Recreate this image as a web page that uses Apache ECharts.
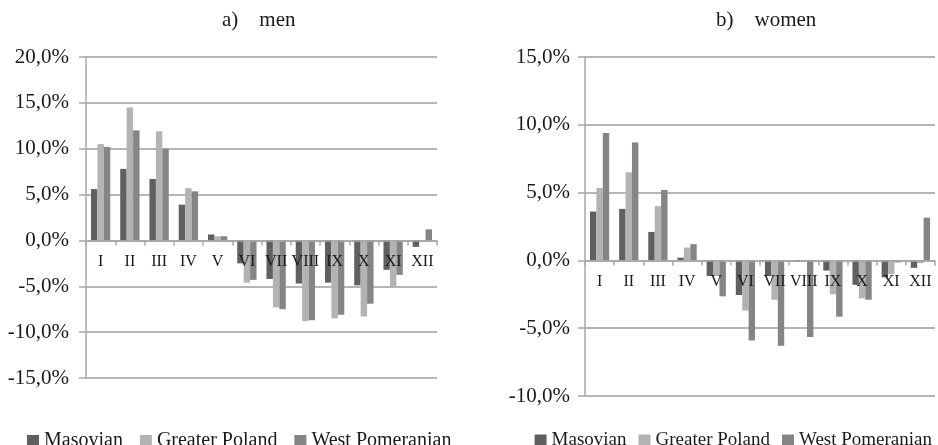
<!DOCTYPE html>
<html>
<head>
<meta charset="utf-8">
<script src="https://cdn.jsdelivr.net/npm/echarts@6/dist/echarts.min.js"></script>
<style>
  html, body { margin: 0; padding: 0; background: #fff; }
  #chart { width: 938px; height: 445px; }
</style>
</head>
<body>
<div id="chart"></div>
<script>
// Month labels shared by both panels
const months = ['I', 'II', 'III', 'IV', 'V', 'VI', 'VII', 'VIII', 'IX', 'X', 'XI', 'XII'];
const regions = ['Masovian', 'Greater Poland', 'West Pomeranian'];

// a) men — monthly deviation, %
const menMasovian       = [5.6, 7.8, 6.7, 3.9, 0.65, -2.5, -4.2, -4.7, -4.6, -4.9, -3.2, -0.7];
const menGreaterPoland  = [10.5, 14.5, 11.9, 5.7, 0.45, -4.6, -7.3, -8.8, -8.5, -8.3, -5.0, -0.1];
const menWestPomeranian = [10.2, 12.0, 10.0, 5.35, 0.45, -4.3, -7.5, -8.7, -8.1, -6.9, -3.75, 1.2];

// b) women — monthly deviation, %
const womenMasovian       = [3.6, 3.8, 2.1, 0.2, -1.15, -2.55, -1.15, -0.1, -0.75, -1.8, -1.25, -0.55];
const womenGreaterPoland  = [5.35, 6.5, 4.0, 0.95, -1.15, -3.7, -2.9, -0.1, -2.5, -2.8, -1.0, -0.2];
const womenWestPomeranian = [9.4, 8.7, 5.2, 1.2, -2.65, -5.9, -6.3, -5.65, -4.15, -2.9, -0.15, 3.15];

const colors = ['#606060', '#b3b3b3', '#858585'];
const serif = 'Liberation Serif';
const ink = '#1a1a1a';
const axisGray = '#a8a8a8';
const gridGray = '#b5b5b5';

const grids = [
  { left: 86, right: 501, top: 57, bottom: 67 },
  { left: 585, right: 3, top: 57, bottom: 49 }
];

function pct(v) {
  return v.toFixed(1).replace('.', ',') + '%';
}

function yAxis(gridIndex, min, max, labelMargin) {
  return {
    type: 'value', gridIndex, min, max, interval: 5,
    axisLine: { show: true, lineStyle: { color: axisGray, width: 1.5 } },
    axisTick: { show: true, length: 7, lineStyle: { color: axisGray, width: 1.5 } },
    axisLabel: { formatter: pct, fontFamily: serif, fontSize: 21, color: ink, margin: labelMargin },
    splitLine: { lineStyle: { color: gridGray, width: 2 } }
  };
}

// Category axis is drawn above the bars so the month labels stay readable
function xAxis(gridIndex) {
  return {
    type: 'category', gridIndex, data: months, position: 'bottom', offset: 0, z: 10,
    axisLine: { onZero: false, lineStyle: { color: axisGray, width: 1.5 } },
    axisTick: { show: true, length: 5, interval: 0, lineStyle: { color: axisGray, width: 1.5 } },
    axisLabel: { interval: 0, hideOverlap: false, fontFamily: serif, fontSize: 16, color: ink, margin: 13 }
  };
}

function bars(name, data, idx, axisIdx) {
  return {
    name, type: 'bar', data,
    xAxisIndex: axisIdx, yAxisIndex: axisIdx,
    itemStyle: { color: colors[idx] },
    barGap: '0%', barCategoryGap: '34%',
    emphasis: { disabled: true }
  };
}

function legend(pos, fontSize, gap) {
  return Object.assign({
    data: regions, top: 426,
    icon: 'rect', itemWidth: 12, itemHeight: 12, itemGap: gap,
    textStyle: { fontFamily: serif, fontSize, color: ink },
    selectedMode: false
  }, pos);
}

const titleStyle = { fontFamily: serif, fontSize: 21, fontWeight: 'normal', color: ink };

const chart = echarts.init(document.getElementById('chart'), null, { renderer: 'canvas' });
chart.setOption({
  animation: false,
  backgroundColor: '#ffffff',
  color: colors,
  title: [
    { text: 'a)    men', left: 217, top: 5, textStyle: titleStyle },
    { text: 'b)    women', left: 711, top: 5, textStyle: titleStyle }
  ],
  legend: [legend({ left: 22 }, 20, 17), legend({ right: 1 }, 19, 12)],
  grid: grids,
  xAxis: [xAxis(0), xAxis(1)],
  yAxis: [yAxis(0, -15, 20, 17), yAxis(1, -10, 15, 15)],
  series: [
    bars(regions[0], menMasovian, 0, 0),
    bars(regions[1], menGreaterPoland, 1, 0),
    bars(regions[2], menWestPomeranian, 2, 0),
    bars(regions[0], womenMasovian, 0, 1),
    bars(regions[1], womenGreaterPoland, 1, 1),
    bars(regions[2], womenWestPomeranian, 2, 1)
  ]
});

// Move each category axis up to the value axis' zero line
const plotHeight = chart.getHeight();
chart.setOption({
  xAxis: grids.map(function (g, i) {
    const zeroY = chart.convertToPixel({ yAxisIndex: i }, 0);
    return { offset: zeroY - (plotHeight - g.bottom) };
  })
});
</script>
</body>
</html>
